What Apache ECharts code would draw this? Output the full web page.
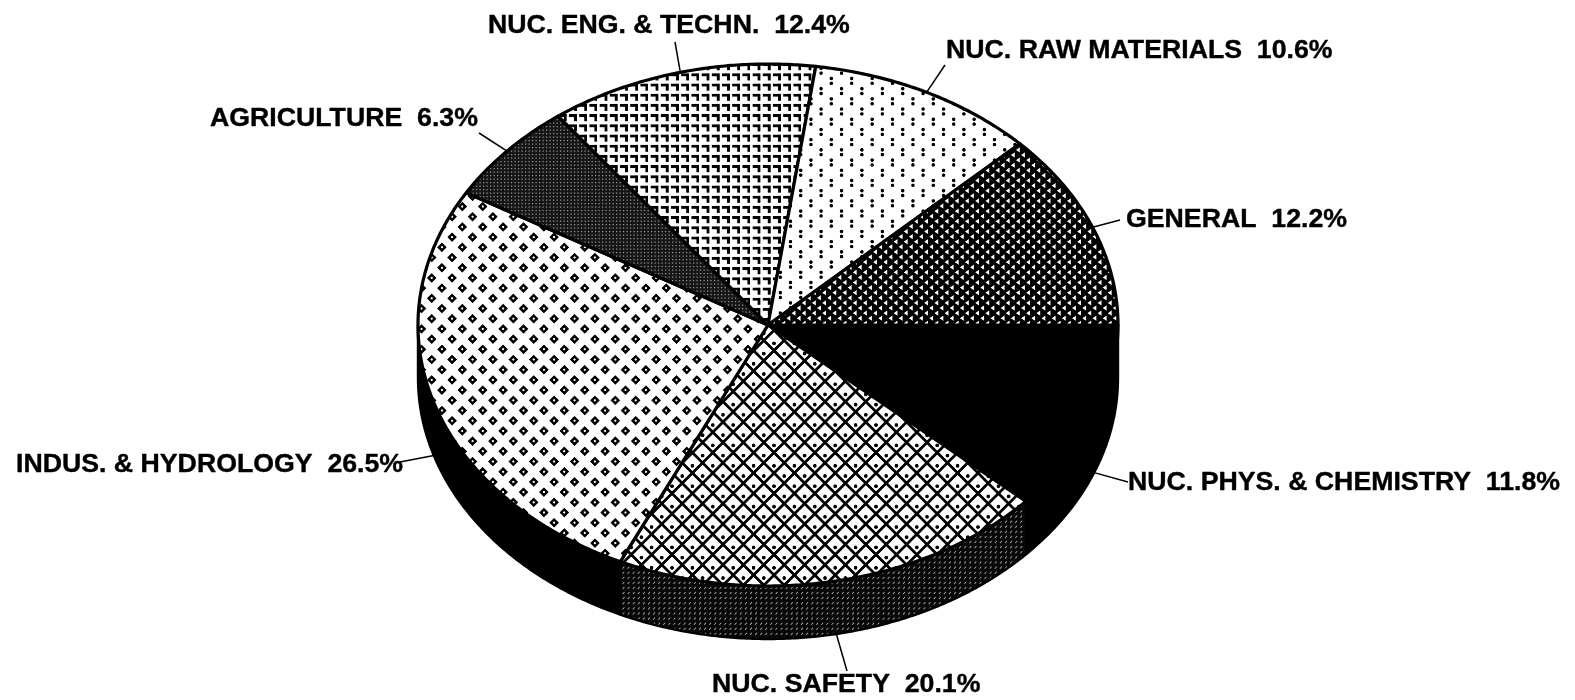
<!DOCTYPE html>
<html>
<head>
<meta charset="utf-8">
<style>html,body{margin:0;padding:0;background:#fff}#chart{width:1575px;height:700px}</style>
<script src="https://cdn.jsdelivr.net/npm/echarts@6/dist/echarts.min.js"></script>
</head>
<body>
<div id="chart"></div>
<script>
// Data, clockwise from 3 o'clock
const categories = ['NUC. PHYS. & CHEMISTRY','NUC. SAFETY','INDUS. & HYDROLOGY','AGRICULTURE','NUC. ENG. & TECHN.','NUC. RAW MATERIALS','GENERAL'];
const shares = [11.8,20.1,26.5,6.3,12.4,10.6,12.2];

// Layout
const labelAnchors = [[1128,483],[712,685],[16,465],[210,119],[488,26],[946,51],[1126,220]];
const leaderEnds = [[1128,482],[847,671],[400,462],[479,133],[675,42],[945,65],[1120,220]];
const pieBox = {cx:768, cy:325, rx:350, ry:261, depth:53};
const labelFont = 'bold 26.7px "Liberation Sans"';

// Hatch tiles
function tile(period, phase, bg, draw){
  const S = 2, n = Math.round(period*S), c = document.createElement('canvas');
  c.width = n; c.height = n;
  const g = c.getContext('2d'), k = n/period;
  g.fillStyle = bg; g.fillRect(0,0,n,n);
  for(let i=-1;i<=1;i++) for(let j=-1;j<=1;j++){
    g.save(); g.scale(k,k);
    g.translate(i*period+(phase[0]%period), j*period+(phase[1]%period));
    draw(g); g.restore();
  }
  return {image:c, repeat:'repeat', scaleX:1/k, scaleY:1/k, x:0, y:0};
}
function dot(g,x,y,r){g.beginPath();g.arc(x,y,r,0,Math.PI*2);g.fill();}
const P = 20.4, H = P/2;
const fills = {
  safety: tile(P,[9,6.8],'#fff',g=>{
    g.strokeStyle='#000';g.lineWidth=2.6;g.fillStyle='#000';
    for(const [ox,oy] of [[0,0],[H,H]]){
      g.beginPath();
      g.moveTo(ox-H,oy-3);g.lineTo(ox,oy-3-H);g.lineTo(ox+H,oy-3);g.lineTo(ox,oy-3+H);g.closePath();
      g.stroke();
      dot(g,ox,oy,1.8);
    }
  }),
  indus: tile(P,[13.5,2.5],'#fff',g=>{
    for(const [ox,oy] of [[0,0],[H,H]]){
      g.fillStyle='#000';g.beginPath();
      g.moveTo(ox-4.8,oy);g.lineTo(ox,oy-4.8);g.lineTo(ox+4.8,oy);g.lineTo(ox,oy+4.8);g.closePath();g.fill();
      g.fillStyle='#fff';dot(g,ox,oy,1.1);
    }
  }),
  agri: tile(3.5,[0,0],'#161616',g=>{
    g.fillStyle='#9a9a9a';g.fillRect(0,0,1.2,1.2);
  }),
  eng: tile(H,[8,2],'#fff',g=>{
    g.fillStyle='#000';
    g.fillRect(0,0,7.8,2.8);
    g.fillRect(5,0,2.8,7);
  }),
  raw: tile(P,[15.3,19.7],'#fff',g=>{
    g.fillStyle='#000';
    for(const [ox,oy] of [[0,0],[H,H]]){dot(g,ox,oy-2.4,1.7);dot(g,ox,oy+2.4,1.7);}
  }),
  general: tile(H,[3,2],'#000',g=>{
    g.fillStyle='#fff';
    for(const [ox,oy] of [[0,0],[H/2,H/2]]){
      g.beginPath();g.moveTo(ox-1.9,oy);g.lineTo(ox+1.9,oy-2.6);g.lineTo(ox+1.9,oy+2.6);g.closePath();g.fill();
    }
  }),
  safetySide: tile(H/2,[0,0],'#080808',g=>{
    g.strokeStyle='#a8a8a8';g.lineWidth=.9;
    g.beginPath();g.moveTo(0.3,2.5);g.lineTo(2.2,0.5);g.stroke();
  })
};
const topFills = ['#000',fills.safety,fills.indus,fills.agri,fills.eng,fills.raw,fills.general];
const sideFills = ['#000',fills.safetySide,'#000',null,null,null,null];

// Cumulative angles (degrees, clockwise from east)
const starts = []; let run = 0;
const total = shares.reduce((a,b)=>a+b,0);
shares.forEach(v=>{starts.push(run/total*360); run+=v;});

function pt(deg,dy){
  const t = deg*Math.PI/180;
  return [pieBox.cx+pieBox.rx*Math.cos(t), pieBox.cy+pieBox.ry*Math.sin(t)+(dy||0)];
}
function arc(a0,a1,dy){
  const out=[], n=Math.max(2,Math.ceil(Math.abs(a1-a0)/0.5));
  for(let i=0;i<=n;i++) out.push(pt(a0+(a1-a0)*i/n,dy));
  return out;
}

function renderItem(params, api){
  const i = params.dataIndex, a0 = starts[i], a1 = a0+api.value(0)/total*360, mid=(a0+a1)/2;
  const children = [];
  const sideEnd = Math.min(a1,180);
  if(sideFills[i] && a0<180){
    children.push({type:'polygon',z2:1,
      shape:{points:arc(a0,sideEnd,0).concat(arc(sideEnd,a0,pieBox.depth))},
      style:{fill:sideFills[i],stroke:'#000',lineWidth:2.4,lineJoin:'round'}});
  }
  children.push({type:'polygon',z2:i===0?2:3,
    shape:{points:[[pieBox.cx,pieBox.cy]].concat(arc(a0,a1,0))},
    style:{fill:topFills[i],stroke:'#000',lineWidth:3.2,lineJoin:'round'}});
  const rim = pt(mid, mid<180?pieBox.depth:0);
  children.push({type:'polyline',z2:4,
    shape:{points:[rim,leaderEnds[i]]},
    style:{fill:null,stroke:'#000',lineWidth:1.5}});
  children.push({type:'text',z2:5,
    style:{x:labelAnchors[i][0],y:labelAnchors[i][1],
      text:categories[i]+'  '+shares[i].toFixed(1)+'%',
      font:labelFont,fill:'#000',stroke:'#000',lineWidth:0.4,align:'left',verticalAlign:'middle'}});
  return {type:'group',children};
}

const chart = echarts.init(document.getElementById('chart'),null,{renderer:'canvas'});
chart.setOption({
  animation:false,
  backgroundColor:'#fff',
  series:[{
    type:'custom',
    coordinateSystem:'none',
    renderItem,
    data:shares.map(v=>[v]),
    silent:true
  }]
});
</script>
</body>
</html>
